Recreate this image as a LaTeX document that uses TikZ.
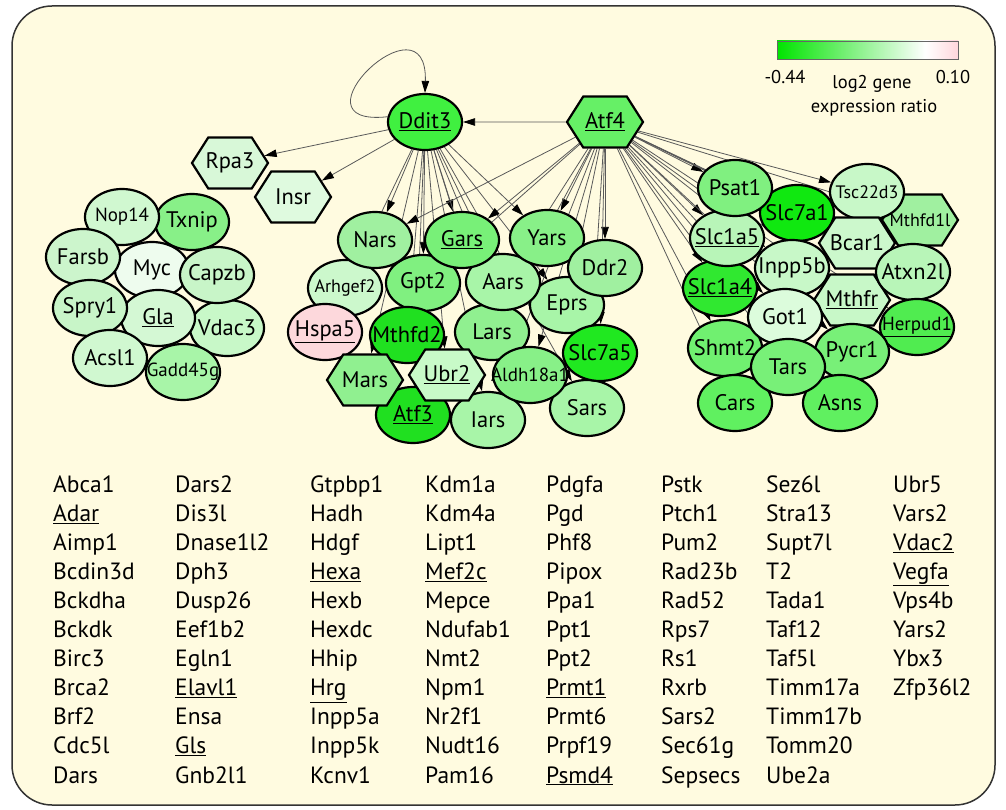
\documentclass[tikz,border=0pt]{standalone}
\usepackage{fontspec}
\setmainfont{PT Sans}
\usetikzlibrary{shapes.geometric,shapes.symbols,arrows.meta}
\pgfdeclarelayer{back}\pgfdeclarelayer{edges}
\pgfsetlayers{back,edges,main}
\definecolor{cream}{HTML}{FFFBE0}
\definecolor{lgA}{HTML}{00E400}
\definecolor{lgB}{HTML}{FFD6DC}
\pgfdeclarehorizontalshading{lgnd}{100bp}{color(0bp)=(lgA); color(25bp)=(lgA); color(66bp)=(white); color(75bp)=(lgB); color(100bp)=(lgB)}
\newcommand\glab[1]{\makebox[0pt]{#1}}
\tikzset{
 gene/.style={ellipse, draw=black, line width=2.2pt, minimum width=74pt, minimum height=56pt, inner sep=0pt, font=\fontsize{22.5}{22.5}\selectfont},
 hexg/.style={signal, signal to=west and east, signal pointer angle=115, draw=black, line width=2.2pt, minimum width=76pt, minimum height=51pt, inner sep=0pt, font=\fontsize{22.5}{22.5}\selectfont},
 sm/.style={font=\fontsize{19}{19}\selectfont},
 edgeline/.style={draw=black!65, line width=0.8pt, -{Triangle[length=12pt,width=7.5pt,color=black]}},
 listtxt/.style={anchor=base west, inner sep=0pt, font=\fontsize{23.5}{23.5}\selectfont},
 legtxt/.style={inner sep=0pt, font=\fontsize{18.5}{18.5}\selectfont},
}
\begin{document}
\begin{tikzpicture}[x=1pt,y=-1pt]
\useasboundingbox (0,0) rectangle (1006,810);
\begin{pgfonlayer}{back}
\draw[fill=cream, draw=black!80, line width=1.5pt, rounded corners=40pt] (12,6) rectangle (995,805);
\end{pgfonlayer}
% legend
\node (bar) [draw=black!60, line width=0.8pt, shading=lgnd, minimum width=181pt, minimum height=18pt, inner sep=0pt] at (867.5,50) {};
\node (lmin) [legtxt] at (785,77) {-0.44};
\node (lmax) [legtxt] at (953,77) {0.10};
\node (ltx1) [legtxt] at (872,84) {log2 gene};
\node (ltx2) [legtxt] at (874,108) {expression ratio};
% top
\node (ddit3) [gene, fill={rgb,255:red,64;green,240;blue,64}] at (425,122) {\glab{\underline{Ddit3}}};
\node (atf4) [hexg, fill={rgb,255:red,102;green,240;blue,102}] at (605,122) {\glab{\underline{Atf4}}};
\node (rpa3) [hexg, fill={rgb,255:red,216;green,248;blue,216}] at (230,163) {\glab{Rpa3}};
\node (insr) [hexg, fill={rgb,255:red,223;green,250;blue,223}] at (293,197) {\glab{Insr}};
% left cluster
\node (txnip) [gene, fill={rgb,255:red,136;green,240;blue,136}] at (192,222) {\glab{Txnip}};
\node (nop14) [gene, sm, fill={rgb,255:red,208;green,248;blue,208}] at (122,217) {\glab{Nop14}};
\node (myc) [gene, fill={rgb,255:red,238;green,252;blue,238}] at (152,270) {\glab{Myc}};
\node (farsb) [gene, fill={rgb,255:red,204;green,245;blue,204}] at (83,257) {\glab{Farsb}};
\node (vdac3) [gene, fill={rgb,255:red,200;green,248;blue,200}] at (227,328) {\glab{Vdac3}};
\node (capzb) [gene, fill={rgb,255:red,200;green,245;blue,200}] at (217,275) {\glab{Capzb}};
\node (gla) [gene, fill={rgb,255:red,212;green,248;blue,212}] at (158,318) {\glab{\underline{Gla}}};
\node (spry1) [gene, fill={rgb,255:red,200;green,245;blue,200}] at (90,308) {\glab{Spry1}};
\node (acsl1) [gene, fill={rgb,255:red,208;green,248;blue,208}] at (110,358) {\glab{Acsl1}};
\node (gadd45g) [gene, sm, fill={rgb,255:red,168;green,245;blue,168}] at (183,372) {\glab{Gadd45g}};
% middle cluster
\node (lars) [gene, fill={rgb,255:red,144;green,240;blue,144}] at (492,332) {\glab{Lars}};
\node (eprs) [gene, fill={rgb,255:red,168;green,245;blue,168}] at (567,305) {\glab{Eprs}};
\node (aars) [gene, fill={rgb,255:red,168;green,245;blue,168}] at (503,282) {\glab{Aars}};
\node (yars) [gene, fill={rgb,255:red,136;green,240;blue,136}] at (547,238) {\glab{Yars}};
\node (ddr2) [gene, fill={rgb,255:red,160;green,240;blue,160}] at (605,268) {\glab{Ddr2}};
\node (arhgef2) [gene, font=\fontsize{18}{18}\selectfont, fill={rgb,255:red,204;green,248;blue,204}] at (345,288) {\glab{Arhgef2}};
\node (gpt2) [gene, fill={rgb,255:red,128;green,240;blue,128}] at (423,283) {\glab{Gpt2}};
\node (nars) [gene, fill={rgb,255:red,160;green,240;blue,160}] at (375,240) {\glab{Nars}};
\node (gars) [gene, fill={rgb,255:red,120;green,240;blue,120}] at (462,240) {\glab{\underline{Gars}}};
\node (hspa5) [gene, fill={rgb,255:red,253;green,216;blue,220}] at (325,332) {\glab{\underline{Hspa5}}};
\node (mthfd2) [gene, fill={rgb,255:red,32;green,224;blue,32}] at (407,335) {\glab{Mthfd2}};
\node (iars) [gene, fill={rgb,255:red,168;green,245;blue,168}] at (488,420) {\glab{Iars}};
\node (sars) [gene, fill={rgb,255:red,168;green,245;blue,168}] at (587,408) {\glab{Sars}};
\node (slc7a5) [gene, fill={rgb,255:red,32;green,232;blue,32}] at (600,353) {\glab{Slc7a5}};
\node (atf3) [gene, fill={rgb,255:red,32;green,224;blue,32}] at (413,415) {\glab{\underline{Atf3}}};
\node (aldh18a1) [gene, sm, fill={rgb,255:red,136;green,240;blue,136}] at (530,375) {\glab{Aldh18a1}};
\node (mars) [hexg, fill={rgb,255:red,144;green,240;blue,144}] at (365,380) {\glab{Mars}};
\node (ubr2) [hexg, fill={rgb,255:red,200;green,250;blue,200}] at (447,375) {\glab{\underline{Ubr2}}};
% right cluster
\node (shmt2) [gene, fill={rgb,255:red,112;green,240;blue,112}] at (725,348) {\glab{Shmt2}};
\node (slc7a1) [gene, fill={rgb,255:red,16;green,232;blue,16}] at (797,213) {\glab{Slc7a1}};
\node (slc1a4) [gene, fill={rgb,255:red,48;green,232;blue,48}] at (720,288) {\glab{\underline{Slc1a4}}};
\node (slc1a5) [gene, fill={rgb,255:red,184;green,245;blue,184}] at (727,238) {\glab{\underline{Slc1a5}}};
\node (psat1) [gene, fill={rgb,255:red,128;green,240;blue,128}] at (735,188) {\glab{Psat1}};
\node (mthfd1l) [hexg, fill={rgb,255:red,160;green,240;blue,160}] at (920,220) {};
\node (tsc22d3) [gene, font=\fontsize{18}{18}\selectfont, fill={rgb,255:red,200;green,248;blue,200}] at (867,192) {\glab{Tsc22d3}};
\node (mthfd1lt) [inner sep=0pt, font=\fontsize{18}{18}\selectfont] at (mthfd1l) {\glab{Mthfd1l}};
\node (bcar1) [hexg, fill={rgb,255:red,204;green,248;blue,204}] at (857,243) {\glab{Bcar1}};
\node (mthfr) [hexg, fill={rgb,255:red,200;green,248;blue,200}] at (852,300) {\glab{\underline{Mthfr}}};
\node (atxn2l) [gene, fill={rgb,255:red,184;green,245;blue,184}] at (913,272) {\glab{Atxn2l}};
\node (herpud1) [gene, sm, fill={rgb,255:red,80;green,236;blue,80}] at (917,327) {\glab{\underline{Herpud1}}};
\node (inpp5b) [gene, fill={rgb,255:red,200;green,248;blue,200}] at (792,268) {\glab{Inpp5b}};
\node (got1) [gene, fill={rgb,255:red,220;green,252;blue,220}] at (785,317) {\glab{Got1}};
\node (pycr1) [gene, fill={rgb,255:red,120;green,240;blue,120}] at (852,352) {\glab{Pycr1}};
\node (cars) [gene, fill={rgb,255:red,96;green,240;blue,96}] at (735,403) {\glab{Cars}};
\node (asns) [gene, fill={rgb,255:red,96;green,240;blue,96}] at (840,403) {\glab{Asns}};
\node (tars) [gene, fill={rgb,255:red,120;green,240;blue,120}] at (788,367) {\glab{Tars}};
% edges
\begin{pgfonlayer}{edges}
\draw[edgeline] (atf4) -- (ddit3);
\draw[edgeline] (ddit3.172) .. controls (285,128) and (428,-10) .. (ddit3.north);
\foreach \t in {rpa3,insr,nars,gars,yars,arhgef2,gpt2,mthfd2,atf3,mars,ubr2,lars,aars,iars,aldh18a1,eprs,sars}
  \draw[edgeline] (ddit3) -- (\t);
\foreach \t in {nars,gars,yars,ddr2,aars,lars,eprs,aldh18a1,slc7a5,sars,iars,gpt2,psat1,tsc22d3,slc1a5,slc1a4,slc7a1,inpp5b,got1,shmt2,tars,cars,asns,pycr1,mthfr,bcar1,atxn2l,herpud1,mthfd1l}
  \draw[edgeline] (atf4) -- (\t);
\end{pgfonlayer}
% list
\foreach \x/\lst [count=\c] in {
 53/{Abca1,\underline{Adar},Aimp1,Bcdin3d,Bckdha,Bckdk,Birc3,Brca2,Brf2,Cdc5l,Dars},
 175/{Dars2,Dis3l,Dnase1l2,Dph3,Dusp26,Eef1b2,Egln1,\underline{Elavl1},Ensa,\underline{Gls},Gnb2l1},
 310/{Gtpbp1,Hadh,Hdgf,\underline{Hexa},Hexb,Hexdc,Hhip,\underline{Hrg},Inpp5a,Inpp5k,Kcnv1},
 425/{Kdm1a,Kdm4a,Lipt1,\underline{Mef2c},Mepce,Ndufab1,Nmt2,Npm1,Nr2f1,Nudt16,Pam16},
 546/{Pdgfa,Pgd,Phf8,Pipox,Ppa1,Ppt1,Ppt2,\underline{Prmt1},Prmt6,Prpf19,\underline{Psmd4}},
 661/{Pstk,Ptch1,Pum2,Rad23b,Rad52,Rps7,Rs1,Rxrb,Sars2,Sec61g,Sepsecs},
 766/{Sez6l,Stra13,Supt7l,T2,Tada1,Taf12,Taf5l,Timm17a,Timm17b,Tomm20,Ube2a},
 893/{Ubr5,Vars2,\underline{Vdac2},\underline{Vegfa},Vps4b,Yars2,Ybx3,Zfp36l2}}
 {\foreach \t [count=\r] in \lst
   \node (t\c-\r) [listtxt] at (\x, {492+(\r-1)*29.1}) {\t};}
\end{tikzpicture}
\end{document}
